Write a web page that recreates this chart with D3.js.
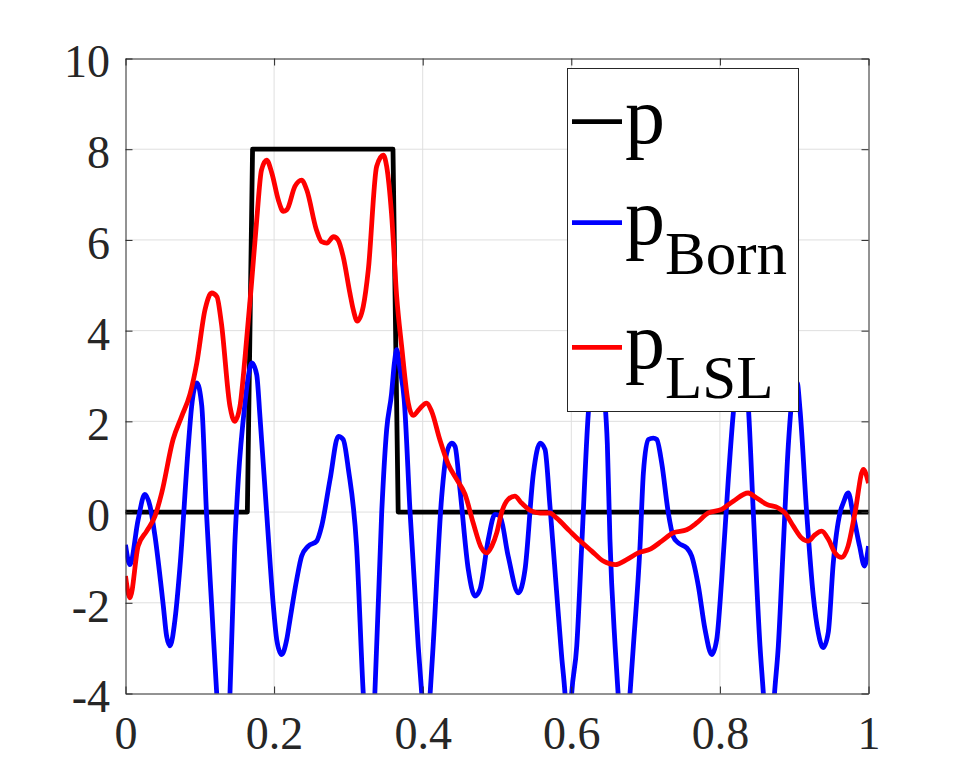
<!DOCTYPE html>
<html>
<head>
<meta charset="utf-8">
<script src="https://cdn.jsdelivr.net/npm/d3@7"></script>
<style>
  html, body { margin: 0; padding: 0; background: #ffffff; }
  svg { display: block; }
  svg text { font-family: "Liberation Serif", "Times New Roman", "DejaVu Serif", serif !important; }
</style>
</head>
<body>
<svg id="chart" width="960" height="780"></svg>
<script>
// ---- data ----
const stepX = [0, 0.164, 0.171, 0.36, 0.367, 1];
const stepY = [0, 0, 8, 8, 0, 0];

const bornX = [0, 0.006, 0.017, 0.026, 0.033, 0.0397, 0.0509, 0.0554, 0.06, 0.0666, 0.0734, 0.0845, 0.089, 0.096,
  0.1026, 0.109, 0.116, 0.1227, 0.132, 0.1406, 0.147, 0.1518, 0.1608, 0.1653, 0.17, 0.1766, 0.181, 0.19, 0.199,
  0.2035, 0.21, 0.217, 0.2214, 0.2304, 0.2371, 0.246, 0.2573, 0.264, 0.2753, 0.2864, 0.293, 0.3, 0.311, 0.32,
  0.328, 0.3356, 0.3448, 0.3515, 0.358, 0.362, 0.365, 0.3695, 0.375, 0.383, 0.394, 0.3987, 0.404, 0.41, 0.414,
  0.4256, 0.4323, 0.439, 0.4435, 0.4502, 0.4614, 0.4704, 0.477, 0.4883, 0.4973, 0.504, 0.515, 0.5287, 0.5377,
  0.549, 0.558, 0.5646, 0.5713, 0.58, 0.587, 0.5915, 0.596, 0.6005, 0.6073, 0.614, 0.623, 0.6295, 0.635, 0.6405,
  0.6485, 0.652, 0.659, 0.663, 0.671, 0.679, 0.6835, 0.6925, 0.697, 0.7036, 0.7104, 0.715, 0.7217, 0.7306, 0.737,
  0.744, 0.7553, 0.762, 0.771, 0.78, 0.789, 0.7957, 0.8024, 0.8113, 0.818, 0.8235, 0.83, 0.835, 0.838, 0.845,
  0.854, 0.8585, 0.866, 0.8735, 0.8786, 0.8853, 0.892, 0.8988, 0.904, 0.9078, 0.9168, 0.9257, 0.9324, 0.939,
  0.9458, 0.9526, 0.9616, 0.966, 0.9728, 0.979, 0.988, 0.9946, 1.0];
const bornY = [-0.72, -1.16, -0.17, 0.39, 0.13, -0.53, -2.07, -2.74, -2.95, -2.37, -1.19, 1.45, 2.33, 2.85,
  2.35, -0.02, -2.07, -3.98, -6.0, -4.0, -0.75, 0.72, 2.4, 2.99, 3.29, 3.03, 2.1, -0.02, -2.07,
  -2.81, -3.14, -2.81, -2.37, -1.49, -0.97, -0.75, -0.64, -0.31, 0.72, 1.67, 1.6, 0.94, -0.75, -4.0,
  -5.8, -4.0, -0.02, 1.82, 2.6, 3.3, 3.58, 3.14, 2.5, 0.0, -2.96, -4.0, -5.3, -4.0, -2.96,
  0.35, 1.3, 1.52, 1.45, 0.5, -1.27, -1.85, -1.71, -0.6, -0.05, -0.09, -0.97, -1.78, -1.27,
  0.86, 1.52, 1.38, 0.13, -1.71, -3.18, -4.0, -5.3, -4.0, -2.96, -0.75, 2.2, 3.14, 3.58, 3.14,
  1.5, -0.6, -2.96, -4.0, -5.8, -4.0, -2.96, -0.75, 0.86, 1.6, 1.63, 1.6, 1.08, -0.02, -0.53,
  -0.68, -0.79, -0.97, -1.63, -2.59, -3.14, -2.81, -1.49, 0.72, 2.18, 3.03, 3.29, 2.99, 2.4, -0.02,
  -2.96, -4.0, -6.0, -4.0, -2.96, -0.75, 1.45, 2.7, 2.85, 2.26, -0.02, -1.85, -2.66, -2.99,
  -2.66, -1.12, -0.02, 0.2, 0.42, -0.02, -0.75, -1.19, -0.75];

const lslX = [0, 0.006, 0.017, 0.0285, 0.0397, 0.0487, 0.064, 0.0756, 0.0868, 0.096, 0.107, 0.116, 0.123, 0.129,
  0.1406, 0.147, 0.154, 0.161, 0.17, 0.1766, 0.183, 0.19, 0.197, 0.2057, 0.2124, 0.217, 0.228, 0.237, 0.244,
  0.257, 0.264, 0.271, 0.28, 0.286, 0.293, 0.302, 0.3066, 0.312, 0.32, 0.3268, 0.338, 0.347, 0.3515, 0.358,
  0.365, 0.3717, 0.3806, 0.387, 0.396, 0.405, 0.412, 0.423, 0.4345, 0.4458, 0.457, 0.468, 0.479, 0.486, 0.493,
  0.4996, 0.506, 0.515, 0.524, 0.533, 0.5467, 0.558, 0.571, 0.58, 0.598, 0.612, 0.6275, 0.643, 0.659, 0.6745,
  0.69, 0.707, 0.7217, 0.737, 0.7553, 0.7688, 0.7844, 0.8024, 0.818, 0.838, 0.8495, 0.863, 0.8786, 0.8876,
  0.8988, 0.91, 0.919, 0.928, 0.937, 0.946, 0.955, 0.964, 0.9725, 0.9818, 0.993, 1.0];
const lslY = [-1.41, -1.89, -0.75, -0.42, -0.09, 0.42, 1.6, 2.11, 2.6, 3.29, 4.46, 4.83, 4.75, 4.17,
  2.33, 2.0, 2.33, 3.43, 5.12, 6.44, 7.54, 7.76, 7.47, 6.88, 6.63, 6.66, 7.18, 7.32, 7.1,
  6.22, 5.96, 5.93, 6.07, 6.0, 5.63, 4.83, 4.46, 4.21, 4.53, 5.34, 7.62, 7.87, 7.62, 6.59,
  4.75, 3.65, 2.4, 2.13, 2.28, 2.4, 2.22, 1.6, 1.05, 0.72, 0.39, -0.24, -0.79, -0.9, -0.75,
  -0.46, -0.02, 0.28, 0.35, 0.2, 0.02, -0.02, -0.02, -0.13, -0.42, -0.64, -0.86, -1.08, -1.16, -1.05,
  -0.9, -0.81, -0.64, -0.46, -0.39, -0.24, -0.02, 0.06, 0.24, 0.42, 0.31, 0.17, 0.09, -0.02,
  -0.31, -0.57, -0.64, -0.5, -0.42, -0.6, -0.9, -1.0, -0.75, -0.02, 0.94, 0.64];

const xTicks = [0, 0.2, 0.4, 0.6, 0.8, 1];
const xTickLabels = ["0", "0.2", "0.4", "0.6", "0.8", "1"];
const yTicks = [-4, -2, 0, 2, 4, 6, 8, 10];
const yTickLabels = ["-4", "-2", "0", "2", "4", "6", "8", "10"];

const seriesNames = ["p", "p", "p"];
const seriesSubs = ["", "Born", "LSL"];
const seriesColors = ["#000000", "#0000ff", "#ff0000"];

// ---- chart ----
const FONT = "Liberation Serif";
const AX = "#262626";
const svg = d3.select("#chart");
svg.append("rect").attr("width", 960).attr("height", 780).attr("fill", "#ffffff");

const L = 125.5, R = 868.5, T = 58.5, B = 693.5;
const x = d3.scaleLinear().domain([0, 1]).range([L, R]);
const y = d3.scaleLinear().domain([-4, 10]).range([B, T]);

svg.append("defs").append("clipPath").attr("id", "clip")
  .append("rect").attr("x", L).attr("y", T).attr("width", R - L).attr("height", B - T);

// grid
const grid = svg.append("g");
grid.selectAll(".gx").data(xTicks.slice(1, -1)).enter().append("line")
  .attr("x1", d => x(d)).attr("x2", d => x(d)).attr("y1", T).attr("y2", B)
  .attr("stroke", "#dfdfdf").attr("stroke-width", 1);
grid.selectAll(".gy").data(yTicks.slice(1, -1)).enter().append("line")
  .attr("x1", L).attr("x2", R).attr("y1", d => y(d)).attr("y2", d => y(d))
  .attr("stroke", "#dfdfdf").attr("stroke-width", 1);

// lines
const LW = 4.8;
const plot = svg.append("g").attr("clip-path", "url(#clip)");
const lineStep = d3.line().x(d => x(d[0])).y(d => y(d[1])).curve(d3.curveLinear);
const lineSmooth = d3.line().x(d => x(d[0])).y(d => y(d[1])).curve(d3.curveMonotoneX);

plot.append("path").datum(d3.zip(stepX, stepY)).attr("d", lineStep)
  .attr("fill", "none").attr("stroke", seriesColors[0]).attr("stroke-width", LW)
  .attr("stroke-linejoin", "round").attr("stroke-linecap", "round");
plot.append("path").datum(d3.zip(bornX, bornY)).attr("d", lineSmooth)
  .attr("fill", "none").attr("stroke", seriesColors[1]).attr("stroke-width", LW)
  .attr("stroke-linejoin", "round");
plot.append("path").datum(d3.zip(lslX, lslY)).attr("d", lineSmooth)
  .attr("fill", "none").attr("stroke", seriesColors[2]).attr("stroke-width", LW)
  .attr("stroke-linejoin", "round");

// axes
function styleAxis(g) {
  g.attr("font-family", FONT).attr("font-size", 46);
  g.selectAll("path.domain").attr("stroke", AX).attr("stroke-width", 1);
  g.selectAll(".tick line").attr("stroke", AX).attr("stroke-width", 1);
  g.selectAll("text").attr("fill", AX).attr("font-family", FONT).attr("font-size", 46);
}
const gB = svg.append("g").attr("transform", `translate(0,${B})`)
  .call(d3.axisBottom(x).tickValues(xTicks).tickFormat((d, i) => xTickLabels[i])
    .tickSizeInner(-7).tickSizeOuter(0).tickPadding(23));
styleAxis(gB);
const gL = svg.append("g").attr("transform", `translate(${L},0)`)
  .call(d3.axisLeft(y).tickValues(yTicks).tickFormat((d, i) => yTickLabels[i])
    .tickSizeInner(-7).tickSizeOuter(0).tickPadding(15.5));
styleAxis(gL);
gL.selectAll("text").attr("dy", "0.4em");
const gT = svg.append("g").attr("transform", `translate(0,${T})`)
  .call(d3.axisTop(x).tickValues(xTicks).tickFormat("").tickSizeInner(-7).tickSizeOuter(0));
styleAxis(gT);
const gR = svg.append("g").attr("transform", `translate(${R},0)`)
  .call(d3.axisRight(y).tickValues(yTicks).tickFormat("").tickSizeInner(-7).tickSizeOuter(0));
styleAxis(gR);

// legend
const lg = svg.append("g").attr("font-family", FONT);
lg.append("rect").attr("x", 567.5).attr("y", 68.5).attr("width", 231).attr("height", 343)
  .attr("fill", "#ffffff").attr("stroke", AX).attr("stroke-width", 1);
const legY = [121.7, 222.7, 347.3];
seriesNames.forEach((nm, i) => {
  lg.append("line").attr("x1", 572).attr("x2", 622).attr("y1", legY[i]).attr("y2", legY[i])
    .attr("stroke", seriesColors[i]).attr("stroke-width", LW);
  const t = lg.append("text").attr("x", 625).attr("y", legY[i] + 21)
    .attr("fill", "#000").attr("font-family", FONT).attr("font-size", 80);
  t.append("tspan").text(nm);
  if (seriesSubs[i]) {
    t.append("tspan").attr("dy", 30).attr("font-size", 61).text(seriesSubs[i]);
  }
});
</script>
</body>
</html>
